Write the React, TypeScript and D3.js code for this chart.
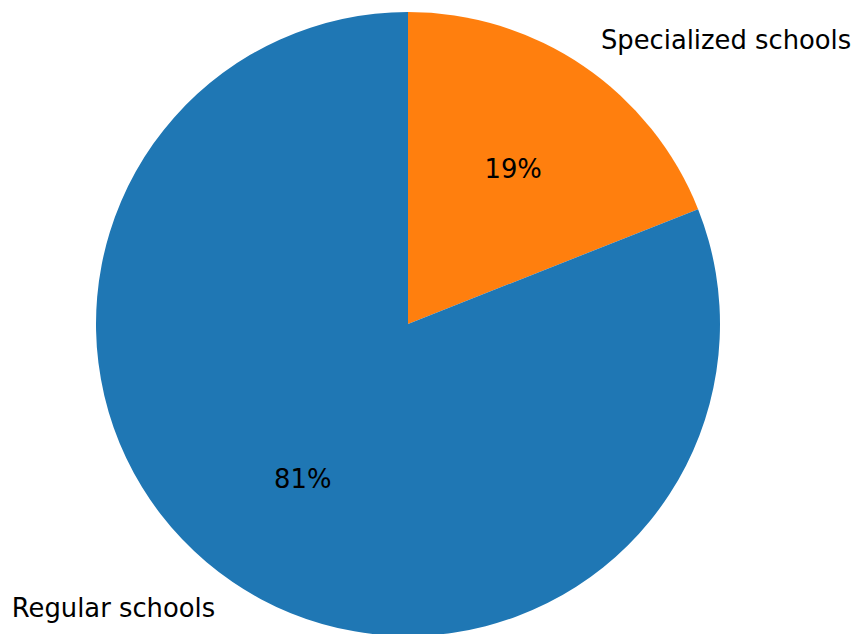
import { useEffect, useRef } from 'react'
import * as d3 from 'd3'

const labels = ['Specialized schools', 'Regular schools']
const values = [19, 81]
const colors = ['#ff7f0e', '#1f77b4']

const width = 854
const height = 634

export default function App() {
  const svgRef = useRef<SVGSVGElement>(null)

  useEffect(() => {
    if (!svgRef.current) return
    const svg = d3.select(svgRef.current)
    svg.selectAll('*').remove()

    const cx = 408
    const cy = 324
    const r = 312

    const g = svg.append('g').attr('transform', `translate(${cx},${cy})`)

    // clockwise from 12 o'clock, orange first
    const pie = d3.pie<number>().sort(null).value(d => d)
    const arcs = pie(values)
    const arc = d3.arc<d3.PieArcDatum<number>>().innerRadius(0).outerRadius(r)

    g.selectAll('path')
      .data(arcs)
      .enter()
      .append('path')
      .attr('d', arc)
      .attr('fill', (_, i) => colors[i])

    const font = 'DejaVu Sans, sans-serif'

    arcs.forEach((a, i) => {
      const mid = (a.startAngle + a.endAngle) / 2
      const sx = Math.sin(mid)
      const sy = -Math.cos(mid)

      // outer label at 1.1 r
      g.append('text')
        .attr('x', 1.1 * r * sx)
        .attr('y', 1.1 * r * sy)
        .attr('dy', '0.35em')
        .attr('text-anchor', sx >= 0 ? 'start' : 'end')
        .style('font-family', font)
        .style('font-size', '25.8px')
        .style('fill', '#000')
        .text(labels[i])

      // percentage at 0.6 r
      g.append('text')
        .attr('x', 0.6 * r * sx)
        .attr('y', 0.6 * r * sy)
        .attr('dy', '0.35em')
        .attr('text-anchor', 'middle')
        .style('font-family', font)
        .style('font-size', '25.8px')
        .style('fill', '#000')
        .text(`${values[i]}%`)
    })
  }, [])

  return (
    <svg
      ref={svgRef}
      width={width}
      height={height}
      style={{ position: 'absolute', left: 0, top: 0, background: '#fff' }}
    />
  )
}
